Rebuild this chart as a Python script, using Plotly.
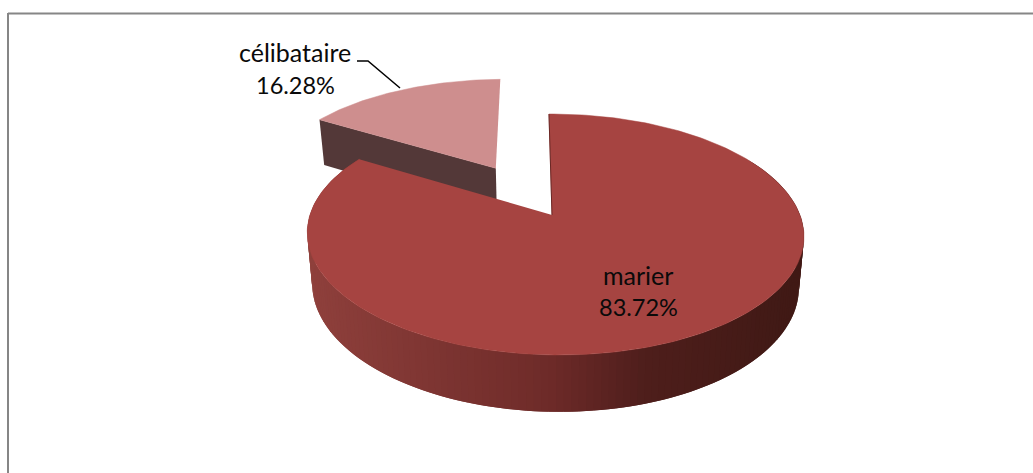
import numpy as np
import plotly.graph_objects as go

# --- data ---
categories = ["marier", "célibataire"]
percents = [83.72, 16.28]
percent_labels = ["83.72%", "16.28%"]
explode = [0.0, 0.49]

# --- styles / projection ---
W, H = 1033, 473
CX, CY = 552, 215
A, B, K, M, SHEAR = 245.0, 117.3, 0.162, 0.012, 0.03
TOP_COLORS = ["#A64441", "#CE8E8E"]
CUT_COLOR = "#533838"
NAME_FONT = dict(family="Lato, Carlito, 'Open Sans', sans-serif", size=25, color="#0A0A0A")
PCT_FONT = dict(family="Lato, Carlito, 'Open Sans', sans-serif", size=23.5, color="#0A0A0A")
STOPS = [(0.0, (143, 64, 60)), (0.5, (110, 43, 41)), (0.7, (78, 30, 27)), (1.0, (64, 25, 21))]


def project(u, v):
    """Unit-disc coordinates to pixel offset from the apex of the first slice."""
    d = 1 - K * v - M * u
    y = B * v / d
    x = A * u / d + SHEAR * y
    return x, y


def bottom(x, y):
    return 0.98 * x, 1.049 * y + 50


def disc(theta, e, mid):
    u = np.sin(theta) + e * np.sin(mid)
    v = -np.cos(theta) + e * -np.cos(mid)
    return project(u, v)


def px(x, y):
    return np.asarray(x) + CX, np.asarray(y) + CY


def shade(t):
    ts = [s[0] for s in STOPS]
    rgb = [np.interp(t, ts, [s[1][i] for s in STOPS]) for i in range(3)]
    return "rgb(%d,%d,%d)" % tuple(int(round(c)) for c in rgb)


fractions = np.array(percents) / sum(percents)
edges = np.concatenate([[0], np.cumsum(fractions)]) * 2 * np.pi

fig = go.Figure()


def poly(xs, ys, color, lw=0.0):
    fig.add_trace(go.Scatter(
        x=list(xs), y=list(ys), mode="lines", fill="toself", fillcolor=color,
        line=dict(color=color, width=lw), hoverinfo="skip", showlegend=False))


# exploded slice: cut wall, then top
start, end = edges[1], edges[2]
mid = (start + end) / 2
e = explode[1]
ax, ay = project(e * np.sin(mid), -e * np.cos(mid))
lx, ly = disc(start, e, mid)
xs = [lx, ax, bottom(ax, ay)[0], bottom(lx, ly)[0]]
ys = [ly, ay, bottom(ax, ay)[1], bottom(lx, ly)[1]]
poly(*px(xs, ys), CUT_COLOR)

th = np.linspace(start, end, 60)
x, y = disc(th, e, mid)
poly(*px(np.r_[ax, x], np.r_[ay, y]), TOP_COLORS[1], 0.5)

# main slice: shaded outer wall, narrow overlapping strips
STEP = 1.5
wall = np.radians(np.arange(60, 300, STEP))
for a0 in wall:
    a1 = a0 + np.radians(STEP * 2)
    x0, y0 = disc(a0, 0, 0)
    x1, y1 = disc(a1, 0, 0)
    bx0, by0 = bottom(x0, y0)
    bx1, by1 = bottom(x1, y1)
    t = 1 - (x0 + A) / (2 * A)
    poly(*px([x0, x1, bx1, bx0], [y0, y1, by1, by0]), shade(1 - t))

# main slice: top
th = np.linspace(edges[0], edges[1], 240)
x, y = disc(th, 0, 0)
poly(*px(np.r_[0, x], np.r_[0, y]), TOP_COLORS[0], 0.5)

# thin dark sliver on the first cut edge
x0, y0 = disc(edges[0], 0, 0)
sx, sy = px([x0, 0], [y0, 0])
fig.add_trace(go.Scatter(x=list(sx), y=list(sy), mode="lines",
                         line=dict(color="#6A2724", width=1),
                         hoverinfo="skip", showlegend=False))

# leader line
leader_x = [357, 368, 400]
leader_y = [61, 61, 88]
fig.add_trace(go.Scatter(x=leader_x, y=leader_y, mode="lines",
                         line=dict(color="#000000", width=1.5),
                         hoverinfo="skip", showlegend=False))

annotations = []
for name, pct, xc, y1, y2 in [
    (categories[0], percent_labels[0], 638, 275, 307),
    (categories[1], percent_labels[1], 295, 52, 85),
]:
    annotations.append(dict(x=xc, y=y1, text=name, showarrow=False, xref="x", yref="y",
                            xanchor="center", yanchor="middle", font=NAME_FONT))
    annotations.append(dict(x=xc, y=y2, text=pct, showarrow=False, xref="x", yref="y",
                            xanchor="center", yanchor="middle", font=PCT_FONT))

border = dict(color="#868686", width=2)
fig.update_layout(
    width=W, height=H,
    margin=dict(l=0, r=0, t=0, b=0),
    paper_bgcolor="#FFFFFF", plot_bgcolor="#FFFFFF",
    showlegend=False,
    xaxis=dict(range=[0, W], visible=False, fixedrange=True),
    yaxis=dict(range=[H, 0], visible=False, fixedrange=True),
    annotations=annotations,
    shapes=[
        dict(type="line", x0=8, x1=W, y0=13.5, y1=13.5, xref="x", yref="y", line=border),
        dict(type="line", x0=8, x1=8, y0=13, y1=H, xref="x", yref="y", line=border),
    ],
)
fig.write_html("out.html", config=dict(displayModeBar=False),
               post_script="document.body.style.margin='0';document.body.style.overflow='hidden';")
